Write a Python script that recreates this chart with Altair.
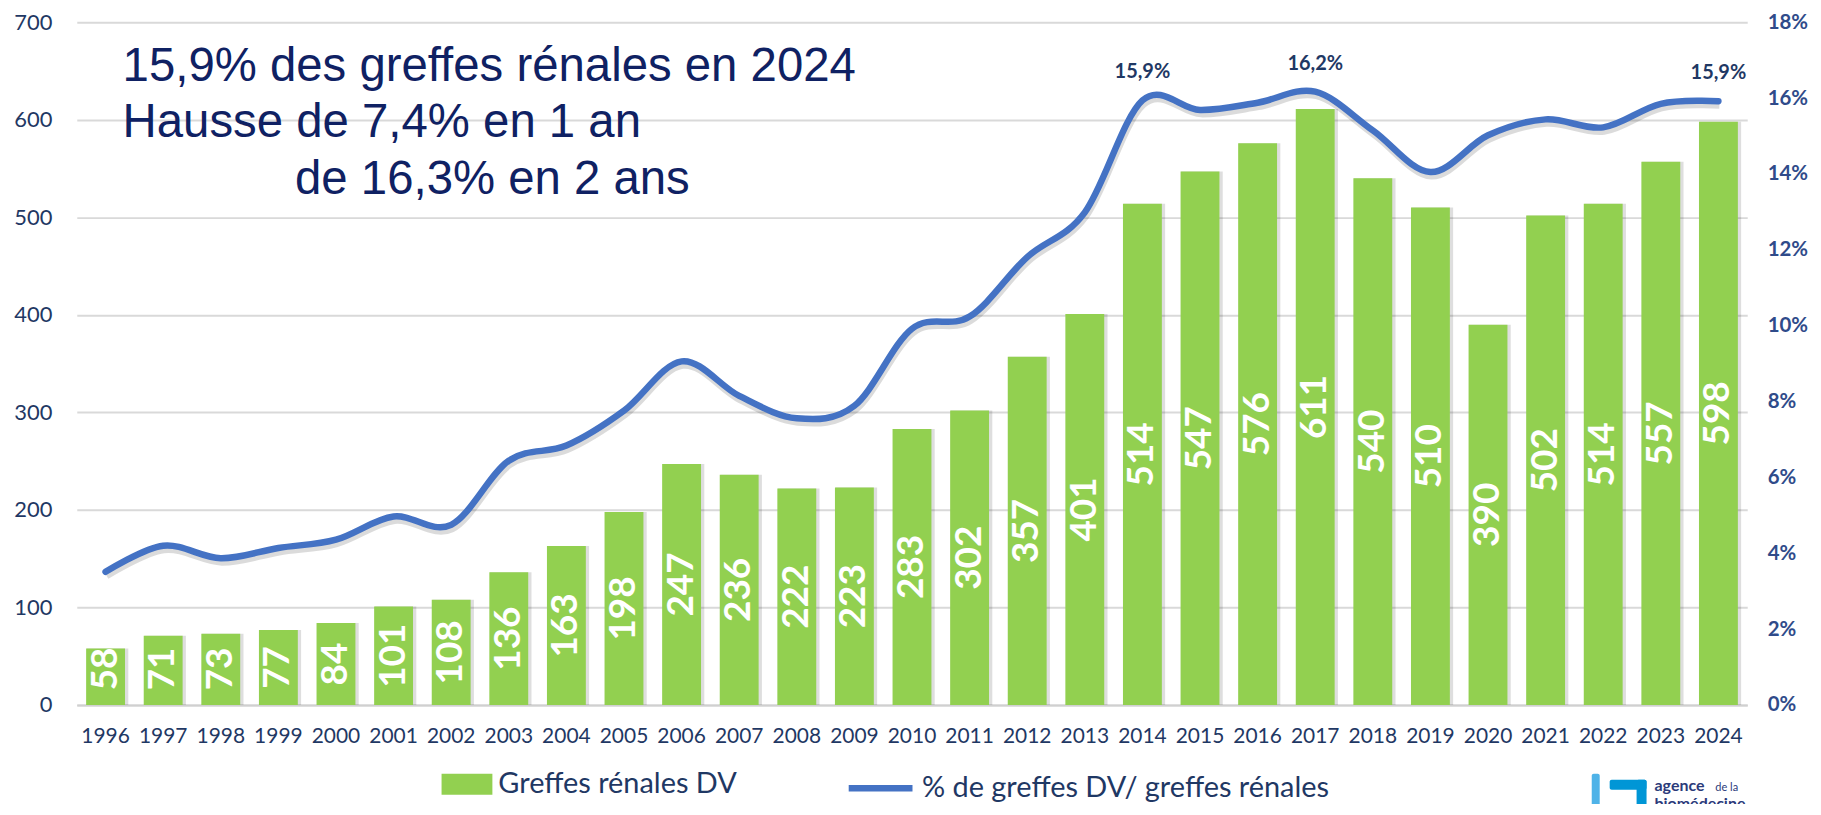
import altair as alt
import pandas as pd

# ---------------- data ----------------
years = [str(y) for y in range(1996, 2025)]
greffes_dv = [58, 71, 73, 77, 84, 101, 108, 136, 163, 198, 247, 236, 222, 223,
              283, 302, 357, 401, 514, 547, 576, 611, 540, 510, 390, 502, 514, 557, 598]
pct_dv = [3.51, 4.20, 3.87, 4.14, 4.36, 4.97, 4.75, 6.44, 6.84, 7.76, 9.06, 8.15, 7.56, 7.89,
          9.92, 10.24, 11.81, 12.99, 15.94, 15.69, 15.88, 16.17, 15.15, 14.05, 15.02, 15.44,
          15.23, 15.85, 15.92]
labelled_years = ["2014", "2017", "2024"]
left_ticks = [0, 100, 200, 300, 400, 500, 600, 700]
right_ticks = [0, 2, 4, 6, 8, 10, 12, 14, 16, 18]
bar_series = "Greffes rénales DV"
line_series = "% de greffes DV/ greffes rénales"
headline = ["15,9% des greffes rénales en 2024", "Hausse de 7,4% en 1 an", "de 16,3% en 2 ans"]
logo_words = ["agence", "de la", "biomédecine"]

# ---------------- styling ----------------
GREEN = "#92D050"
BLUE = "#4472C4"
NAVY = "#1F3864"
TITLE_NAVY = "#0F2163"
W, H = 1676, 685

df = pd.DataFrame({"annee": years, "greffes": greffes_dv, "pct": pct_dv})
df["serie_barre"] = bar_series
df["serie_ligne"] = line_series
df["pct_label"] = [
    (f"{v:.1f}".replace(".", ",") + "%") if y in labelled_years else ""
    for y, v in zip(years, pct_dv)
]

X = alt.X(
    "annee:N", sort=years, title=None,
    scale=alt.Scale(paddingInner=0, paddingOuter=0),
    axis=alt.Axis(title=None, labelAngle=0, labelFont="Lato", labelFontSize=21,
                  labelColor=NAVY, labelPadding=21, ticks=False, domain=True,
                  domainColor="#D0D0D0", domainWidth=2),
)
yL = alt.Scale(domain=[0, 700], nice=False)
yR = alt.Scale(domain=[0, 18], nice=False)

left_axis = alt.Axis(title=None, orient="left", values=left_ticks, grid=True,
                     gridColor="#D9D9D9", gridWidth=2, ticks=False, domain=False,
                     labelFont="Lato", labelFontSize=22, labelColor=NAVY, labelPadding=25)
right_axis = alt.Axis(title=None, orient="right", values=right_ticks, grid=False,
                      ticks=False, domain=False, labelFont="Lato", labelFontSize=20.5,
                      labelFontWeight="bold", labelColor="#2F4B8A", labelPadding=20,
                      labelExpr="datum.value + '%'")

base = alt.Chart(df)

bar_shadow = base.mark_bar(color="#000000", opacity=0.13,
                           width=alt.RelativeBandSize(0.72), xOffset=2).encode(
    x=X, y=alt.Y("greffes:Q", title=None, scale=yL, axis=left_axis))

bars = base.mark_bar(width=alt.RelativeBandSize(0.675)).encode(
    x=X,
    y=alt.Y("greffes:Q", title=None, scale=yL, axis=left_axis),
    fill=alt.Fill("serie_barre:N",
                  scale=alt.Scale(domain=[bar_series], range=[GREEN]),
                  legend=alt.Legend(title=None, orient="none", legendX=366, legendY=739,
                                    symbolType="M-1,-0.41L1,-0.41L1,0.41L-1,0.41Z",
                                    symbolSize=2601, symbolStrokeWidth=0,
                                    labelFont="Lato", labelFontSize=29, labelColor=NAVY,
                                    labelLimit=800, labelOffset=6, padding=0)),
)

bar_labels = base.transform_calculate(ypos="max(datum.greffes / 2, 37)").mark_text(
    angle=270, align="center", baseline="middle", color="white", font="Lato",
    fontWeight="bold", fontSize=37).encode(
    x=X, y=alt.Y("ypos:Q", title=None, scale=yL, axis=left_axis),
    text=alt.Text("greffes:Q"))

bar_group = alt.layer(bar_shadow, bars, bar_labels)

line_shadow = base.mark_line(interpolate="cardinal", color="#000000", opacity=0.14,
                             strokeWidth=7, yOffset=4, xOffset=1).encode(
    x=X, y=alt.Y("pct:Q", title=None, scale=yR, axis=right_axis))

line = base.mark_line(interpolate="cardinal", strokeWidth=6.5, strokeCap="round").encode(
    x=X,
    y=alt.Y("pct:Q", title=None, scale=yR, axis=right_axis),
    stroke=alt.Stroke("serie_ligne:N",
                      scale=alt.Scale(domain=[line_series], range=[BLUE]),
                      legend=alt.Legend(title=None, orient="none", legendX=771, legendY=733,
                                        symbolType="stroke", symbolSize=4096,
                                        symbolStrokeWidth=6.5,
                                        labelFont="Lato", labelFontSize=29, labelColor=NAVY,
                                        labelLimit=800, labelOffset=6, padding=0)),
)

line_labels = base.transform_filter("datum.pct_label != ''").mark_text(
    dy=-28, font="Lato", fontWeight="bold", fontSize=20, color=NAVY).encode(
    x=X, y=alt.Y("pct:Q", title=None, scale=yR, axis=right_axis), text="pct_label:N")

line_group = alt.layer(line_shadow, line, line_labels)

# headline annotation (three lines)
def note(txt, x, y, size=47, color=TITLE_NAVY, weight="normal", font="Liberation Sans"):
    return alt.Chart(pd.DataFrame({"t": [txt]})).mark_text(
        align="left", baseline="alphabetic", font=font, fontSize=size,
        fontWeight=weight, color=color).encode(
        x=alt.value(x), y=alt.value(y), text="t:N")

t1 = note(headline[0], 46, 59, size=47.5)
t2 = note(headline[1], 46, 115, size=47.5)
t3 = note(headline[2], 219, 172, size=47.5)

# logo of the agence de la biomédecine (cut by the bottom edge, as in the original)
def block(x1, x2, y1, y2, color):
    return alt.Chart(pd.DataFrame({"k": [0]})).mark_rect(color=color, cornerRadius=2).encode(
        x=alt.value(x1), x2=alt.value(x2), y=alt.value(y1), y2=alt.value(y2))

logo = alt.layer(
    block(1520, 1528, 754, 790, "#4FB3E8"),
    block(1538, 1575, 760, 770, "#0096D6"),
    block(1565, 1575, 760, 790, "#0096D6"),
    note(logo_words[0], 1583, 771, size=16, color="#2B3A7A", weight="bold", font="Lato"),
    note(logo_words[1], 1644, 771, size=11, color="#2B3A7A", font="Lato"),
    note(logo_words[2], 1583, 789, size=16, color="#2B3A7A", weight="bold", font="Lato"),
)

chart = alt.layer(bar_group, line_group, t1, t2, t3, logo).resolve_scale(
    y="independent", fill="independent", stroke="independent"
).properties(
    width=W, height=H,
    autosize=alt.AutoSizeParams(type="none"),
    padding={"left": 69, "top": 13, "right": 66, "bottom": 98},
    background="white",
).configure_view(stroke=None)

chart.save("out.html", embed_options={"renderer": "svg", "actions": False})
